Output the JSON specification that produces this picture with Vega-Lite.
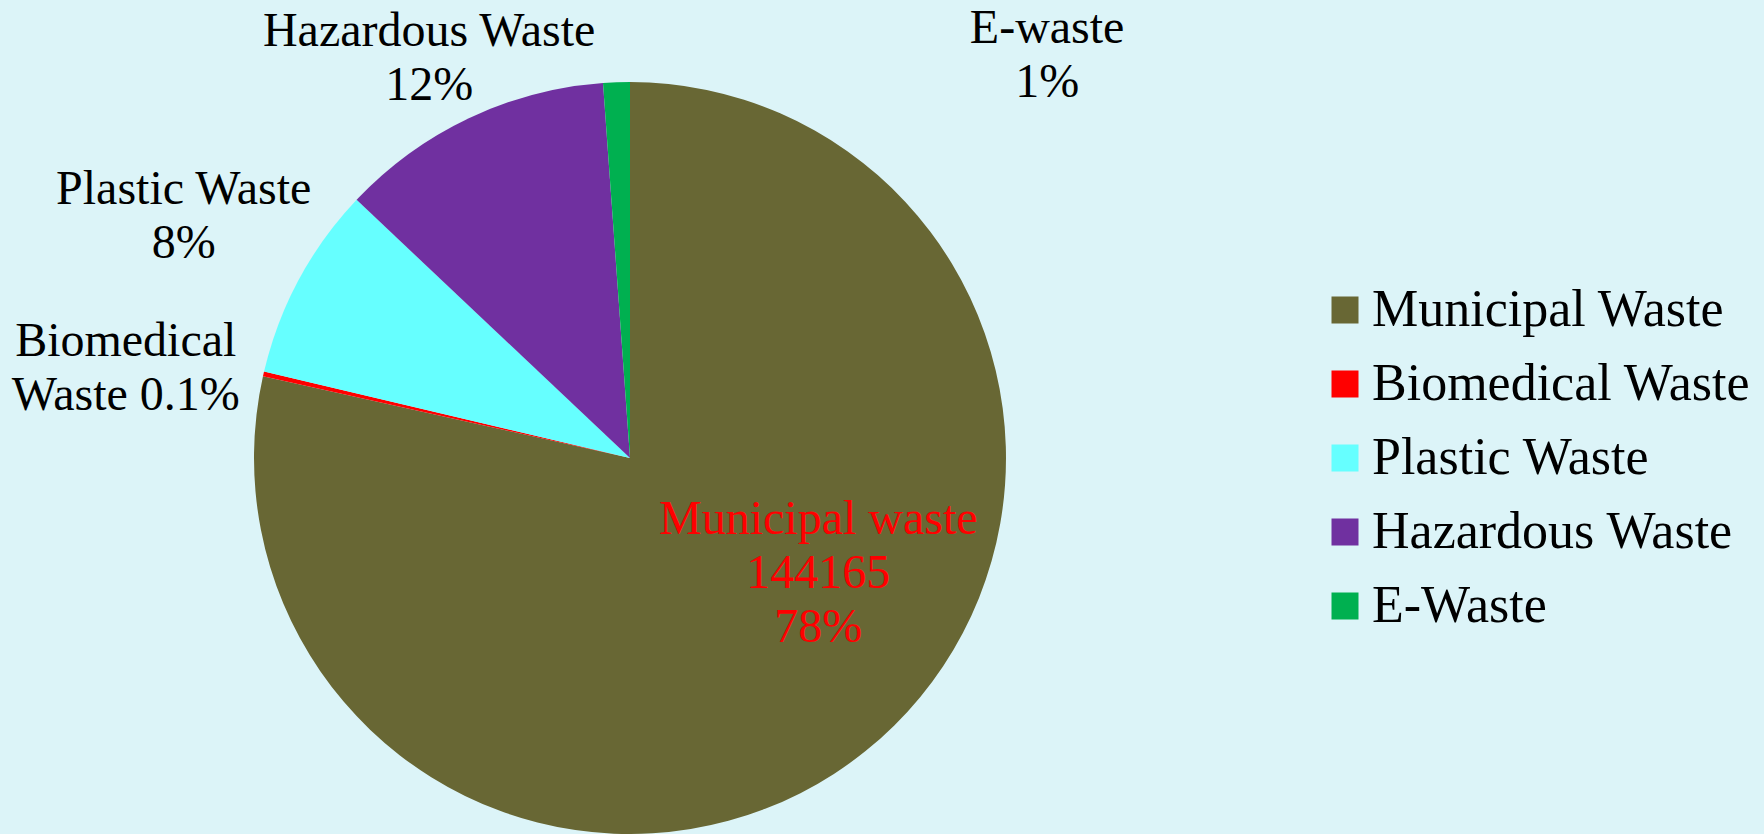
{
  "$schema": "https://vega.github.io/schema/vega-lite/v6.json",
  "width": 1260,
  "height": 752,
  "autosize": {"type": "none"},
  "padding": {"left": 0, "top": 82, "right": 504, "bottom": 0},
  "background": "#DCF4F8",
  "config": {"view": {"stroke": null}},
  "data": {
    "values": [
      {"idx": 1, "cat": "Municipal Waste", "value": 144165, "label": "Municipal waste\n144165\n78%"},
      {"idx": 2, "cat": "Biomedical Waste", "value": 380, "label": "Biomedical\nWaste 0.1%"},
      {"idx": 3, "cat": "Plastic Waste", "value": 15342, "label": "Plastic Waste\n8%"},
      {"idx": 4, "cat": "Hazardous Waste", "value": 21700, "label": "Hazardous Waste\n12%"},
      {"idx": 5, "cat": "E-Waste", "value": 2100, "label": "E-waste\n1%"}
    ]
  },
  "encoding": {
    "theta": {"field": "value", "type": "quantitative", "stack": true},
    "order": {"field": "idx", "type": "quantitative"}
  },
  "layer": [
    {
      "mark": {"type": "arc", "radius": 376, "strokeWidth": 0},
      "encoding": {
        "color": {
          "field": "cat",
          "type": "nominal",
          "sort": ["Municipal Waste", "Biomedical Waste", "Plastic Waste", "Hazardous Waste", "E-Waste"],
          "scale": {
            "domain": ["Municipal Waste", "Biomedical Waste", "Plastic Waste", "Hazardous Waste", "E-Waste"],
            "range": ["#686734", "#FF0000", "#66FFFF", "#7030A0", "#00B050"]
          },
          "legend": {
            "title": null,
            "orient": "none",
            "legendX": 1319,
            "legendY": 202,
            "padding": 0,
            "symbolType": "square",
            "symbolSize": 729,
            "symbolStrokeWidth": 0,
            "labelFont": "Liberation Serif",
            "labelFontSize": 52,
            "labelColor": "#000000",
            "labelOffset": 1,
            "labelLimit": 500,
            "rowPadding": 22
          }
        }
      }
    },
    {
      "mark": {"type": "text", "radius": 221, "thetaOffset": -0.344, "dy": -54, "font": "Liberation Serif", "fontSize": 48, "lineHeight": 54, "lineBreak": "\n", "align": "center", "baseline": "middle", "color": "#FF0000"},
      "encoding": {
        "text": {"condition": {"test": "datum.cat === 'Municipal Waste'", "field": "label", "type": "nominal"}, "value": ""}
      }
    },
    {
      "mark": {"type": "text", "radius": 512, "thetaOffset": -0.051, "dy": -27, "font": "Liberation Serif", "fontSize": 48, "lineHeight": 54, "lineBreak": "\n", "align": "center", "baseline": "middle", "color": "#000000"},
      "encoding": {
        "text": {"condition": {"test": "datum.cat === 'Biomedical Waste'", "field": "label", "type": "nominal"}, "value": ""}
      }
    },
    {
      "mark": {"type": "text", "radius": 507, "thetaOffset": 0, "dy": -27, "font": "Liberation Serif", "fontSize": 48, "lineHeight": 54, "lineBreak": "\n", "align": "center", "baseline": "middle", "color": "#000000"},
      "encoding": {
        "text": {"condition": {"test": "datum.cat === 'Plastic Waste'", "field": "label", "type": "nominal"}, "value": ""}
      }
    },
    {
      "mark": {"type": "text", "radius": 447, "thetaOffset": -0.023, "dy": -27, "font": "Liberation Serif", "fontSize": 48, "lineHeight": 54, "lineBreak": "\n", "align": "center", "baseline": "middle", "color": "#000000"},
      "encoding": {
        "text": {"condition": {"test": "datum.cat === 'Hazardous Waste'", "field": "label", "type": "nominal"}, "value": ""}
      }
    },
    {
      "mark": {"type": "text", "radius": 582, "thetaOffset": 0.835, "dy": -23, "font": "Liberation Serif", "fontSize": 48, "lineHeight": 54, "lineBreak": "\n", "align": "center", "baseline": "middle", "color": "#000000"},
      "encoding": {
        "text": {"condition": {"test": "datum.cat === 'E-Waste'", "field": "label", "type": "nominal"}, "value": ""}
      }
    }
  ]
}
